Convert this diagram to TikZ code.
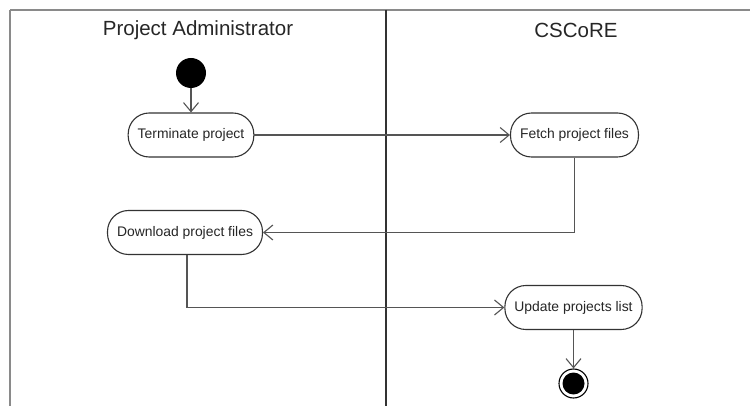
\documentclass[tikz,border=0pt]{standalone}
\usepackage{fontspec}
\setmainfont{Liberation Sans}
\usepackage{xcolor}
\usepackage{tikz}
\usetikzlibrary{arrows.meta,positioning,calc}
\definecolor{lanegray}{HTML}{8A8A8A}
\definecolor{linegray}{HTML}{555555}
\definecolor{boxgray}{HTML}{333333}
\begin{document}
\begin{tikzpicture}[x=1pt,y=-1pt,
    lanetitle/.style={font=\fontsize{20.5}{24}\selectfont,text=black!85},
    activity/.style={draw=boxgray,line width=1.1pt,rounded corners=21pt,fill=white,
        minimum height=44pt,inner xsep=9.5pt,font=\fontsize{13.9}{16}\selectfont,text=black!85},
    startnode/.style={circle,fill=black,minimum size=30pt,inner sep=0pt},
    stopnode/.style={circle,draw=black,line width=1.1pt,minimum size=29pt,inner sep=0pt},
    flow/.style={draw=linegray,line width=1.3pt,-{Straight Barb[length=9pt,width=15pt,line width=1.1pt]}}]
                \useasboundingbox (0,0) rectangle (750,406);
                \draw[lanegray,line width=2pt] (10,10) -- (750,10);
                \draw[lanegray,line width=2pt] (10,10) -- (10,406);
                \draw[boxgray,line width=2.4pt] (386,10) -- (386,406);
                \node[lanetitle] (admin) at (198,30) {Project Administrator};
                \node[lanetitle] (cscore) at (576,30) {CSCoRE};
                \node[startnode] (start) at (191,73) {};
                \node[activity] (terminate) at (191,135) {Terminate project};
                \node[activity] (fetch) at (574.5,135) {Fetch project files};
                \node[activity] (download) at (185,232.5) {Download project files};
                \node[activity] (update) at (573.5,307.5) {Update projects list};
                \node[stopnode] (stop) at (573.5,383.5) {};
                \fill[black] (stop.center) circle (11pt);
                \draw[flow] (start) -- (terminate);
                \draw[flow] (terminate) -- (fetch);
                \draw[flow] (fetch.south) |- (download.east);
                \draw[flow] ([xshift=2pt]download.south) |- (update.west);
                \draw[flow] (update) -- (stop);
            \end{tikzpicture}
\end{document}
